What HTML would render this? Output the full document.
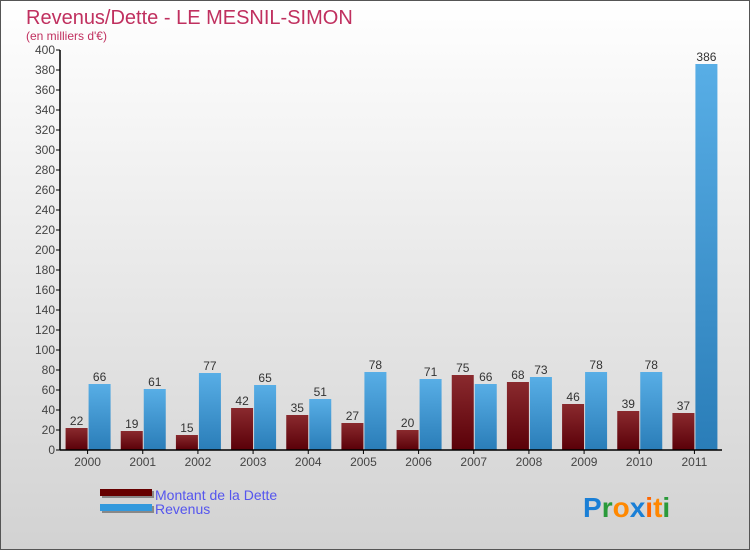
<!DOCTYPE html>
<html><head><meta charset="utf-8"><style>
body{margin:0;width:750px;height:550px;overflow:hidden;font-family:"Liberation Sans",sans-serif}
</style></head><body>
<svg width="750" height="550" xmlns="http://www.w3.org/2000/svg">
<defs>
<linearGradient id="bg" x1="0" y1="0" x2="0" y2="1"><stop offset="0" stop-color="#ffffff"/><stop offset="1" stop-color="#d2d2d2"/></linearGradient>
<linearGradient id="gd" x1="0" y1="0" x2="0" y2="1"><stop offset="0" stop-color="#8a2a2e"/><stop offset="1" stop-color="#5a0008"/></linearGradient>
<linearGradient id="gr" x1="0" y1="0" x2="0" y2="1"><stop offset="0" stop-color="#58aee6"/><stop offset="1" stop-color="#2a7db8"/></linearGradient>
</defs>
<rect x="0.5" y="0.5" width="749" height="549" fill="url(#bg)" stroke="#555"/>
<text x="26" y="24" font-size="20" fill="#c0305f">Revenus/Dette - LE MESNIL-SIMON</text>
<text x="26" y="40" font-size="12" fill="#c0305f">(en milliers d'€)</text>
<g id="plot"></g>
<g>
<rect x="102" y="491" width="52" height="7" fill="#888"/><rect x="100" y="489" width="52" height="7" fill="#660000"/>
<rect x="102" y="506" width="52" height="7" fill="#888"/><rect x="100" y="504" width="52" height="7" fill="#3399dd"/>
<text x="155" y="500" font-size="14" fill="#5555ee">Montant de la Dette</text>
<text x="155" y="514" font-size="14" fill="#5555ee">Revenus</text>
</g>
<g font-size="28" font-weight="bold">
<text x="583" y="517"><tspan fill="#1a7fd6">P</tspan><tspan fill="#2a9a3a">r</tspan><tspan fill="#ff8800">o</tspan><tspan fill="#1a7fd6">x</tspan><tspan fill="#ff6600">i</tspan><tspan fill="#ff8800">t</tspan><tspan fill="#2a9a3a">i</tspan></text>
</g>
</svg>
<script>
const categories=["2000","2001","2002","2003","2004","2005","2006","2007","2008","2009","2010","2011"];
const dette=[22,19,15,42,35,27,20,75,68,46,39,37];
const revenus=[66,61,77,65,51,78,71,66,73,78,78,386];
const yTicks=[0,20,40,60,80,100,120,140,160,180,200,220,240,260,280,300,320,340,360,380,400];
const NS="http://www.w3.org/2000/svg";
const g=document.getElementById('plot');
const x0=60,x1=722,yB=450,yT=50,yMax=400;
const bw=(x1-x0)/categories.length;
const y=v=>yB-(v/yMax)*(yB-yT);
function mk(t,a,txt){const e=document.createElementNS(NS,t);for(const k in a)e.setAttribute(k,a[k]);if(txt!==undefined)e.textContent=txt;g.appendChild(e);return e;}
yTicks.forEach(v=>{
const l=mk('line',{x1:x0-4,x2:x0,y1:y(v),y2:y(v),stroke:'#000'});


const t=mk('text',{x:x0-5,y:y(v)+4,'font-size':12,'text-anchor':'end',fill:'#444'},v);


});
categories.forEach((c,i)=>{
const cx=x0+bw*(i+0.5);
const r1=mk('rect',{x:cx-22,y:y(dette[i]),width:22,height:yB-y(dette[i]),fill:'url(#gd)'});


const r2=mk('rect',{x:cx+1,y:y(revenus[i]),width:22,height:yB-y(revenus[i]),fill:'url(#gr)'});


const l1=mk('text',{x:cx-11,y:y(dette[i])-3,'font-size':12,'text-anchor':'middle',fill:'#333'},dette[i]);


const l2=mk('text',{x:cx+12,y:y(revenus[i])-3,'font-size':12,'text-anchor':'middle',fill:'#333'},revenus[i]);


const tk=mk('line',{x1:cx,x2:cx,y1:yB,y2:yB+4,stroke:'#000'});


const xl=mk('text',{x:cx,y:yB+16,'font-size':12,'text-anchor':'middle',fill:'#444'},c);


});
const ya=mk('line',{x1:x0,x2:x0,y1:yT,y2:yB,stroke:'#000','stroke-width':1.5});


const xa=mk('line',{x1:x0,x2:x1,y1:yB,y2:yB,stroke:'#000','stroke-width':1.5});


</script>
</body></html>
